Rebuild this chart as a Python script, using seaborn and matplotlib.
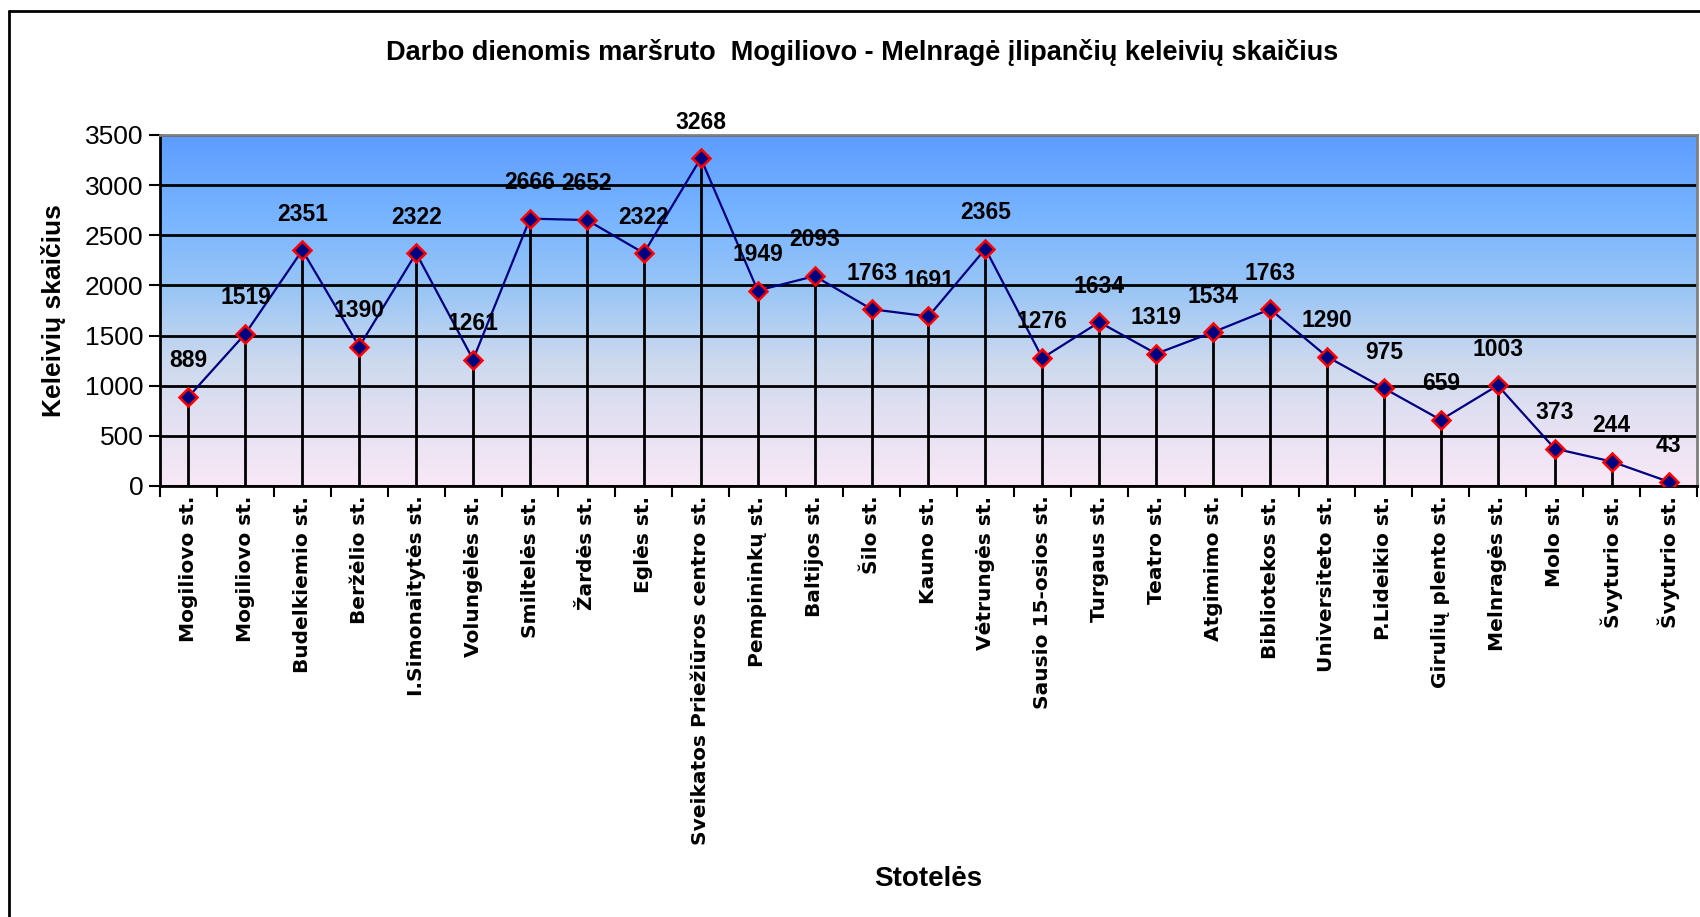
import numpy as np
import pandas as pd
import matplotlib
matplotlib.use("Agg")
import matplotlib.pyplot as plt
from matplotlib.colors import LinearSegmentedColormap
from matplotlib.lines import Line2D
import seaborn as sns

stops = ["Mogiliovo st.", "Mogiliovo st.", "Budelkiemio st.", "Beržėlio st.",
         "I.Simonaitytės st.", "Volungėlės st.", "Smiltelės st.", "Žardės st.",
         "Eglės st.", "Sveikatos Priežiūros centro st.", "Pempininkų st.",
         "Baltijos st.", "Šilo st.", "Kauno st.", "Vėtrungės st.",
         "Sausio 15-osios st.", "Turgaus st.", "Teatro st.", "Atgimimo st.",
         "Bibliotekos st.", "Universiteto st.", "P.Lideikio st.",
         "Girulių plento st.", "Melnragės st.", "Molo st.", "Švyturio st.",
         "Švyturio st."]
passengers = [889, 1519, 2351, 1390, 2322, 1261, 2666, 2652, 2322, 3268, 1949,
              2093, 1763, 1691, 2365, 1276, 1634, 1319, 1534, 1763, 1290, 975,
              659, 1003, 373, 244, 43]
yticks = [0, 500, 1000, 1500, 2000, 2500, 3000, 3500]

title = "Darbo dienomis maršruto  Mogiliovo - Melnragė įlipančių keleivių skaičius"
ylabel = "Keleivių skaičius"
xlabel = "Stotelės"

sns.set_theme(style="white")
plt.rcParams['font.family'] = ['Liberation Sans', 'DejaVu Sans']
plt.rcParams.update({'text.color': 'black', 'axes.labelcolor': 'black',
                     'xtick.color': 'black', 'ytick.color': 'black'})

n = len(passengers)
df = pd.DataFrame({"pos": np.arange(n), "val": passengers})

fig = plt.figure(figsize=(17, 9.17), dpi=100)
ax = fig.add_axes([160/1700, 1-486/917, (1697-160)/1700, (486-135)/917])

# gradient background
cmap = LinearSegmentedColormap.from_list("bg", [
    (0.0, (248/255, 232/255, 246/255)),
    (0.15, (232/255, 226/255, 243/255)),
    (0.35, (205/255, 217/255, 238/255)),
    (0.55, (155/255, 198/255, 245/255)),
    (0.75, (122/255, 182/255, 255/255)),
    (1.0, (92/255, 156/255, 255/255)),
])
grad = np.linspace(0, 1, 256).reshape(-1, 1)
ax.imshow(grad, aspect='auto', cmap=cmap, origin='lower',
          extent=[0, 1, 0, 1], transform=ax.transAxes, zorder=0)

for yv in yticks:
    ax.axhline(yv, color='black', lw=2, zorder=1)

ax.vlines(df["pos"], 0, df["val"], color='black', lw=2, zorder=2)

sns.lineplot(data=df, x="pos", y="val", ax=ax, color='#000080', lw=1.6,
             marker='D', markersize=9, markerfacecolor='#000080',
             markeredgecolor='red', markeredgewidth=1.8, zorder=3)

for x, v in zip(df["pos"], df["val"]):
    ax.annotate(str(v), (x, v), xytext=(0, 26), textcoords='offset points',
                ha='center', va='center', fontsize=16.5, fontweight='bold',
                color='black', annotation_clip=False, zorder=4)

ax.set_xlim(-0.5, n - 0.5)
ax.set_ylim(0, 3500)
ax.set_yticks(yticks)
ax.set_yticklabels([str(t) for t in yticks], fontsize=19)
ax.set_xticks(np.arange(n))
ax.set_xticklabels(stops, rotation=90, fontsize=14.5, fontweight='bold',
                   va='top', ha='center', family=['DejaVu Sans'])
ax.set_xticks(np.arange(n + 1) - 0.5, minor=True)
ax.tick_params(axis='x', which='major', length=0, pad=7)
ax.tick_params(axis='x', which='minor', length=8, width=1.5, color='black',
               direction='out', bottom=True)
ax.tick_params(axis='y', length=8, width=1.5, color='black', direction='out',
               left=True, pad=4)

ax.set_xlabel(xlabel, fontsize=20, fontweight='bold')
ax.set_ylabel(ylabel, fontsize=19, fontweight='bold')
ax.xaxis.set_label_coords((928-160)/(1697-160), -(866-486)/(486-135))
ax.yaxis.set_label_coords(-(160-66)/(1697-160), 0.5)

for side in ['left', 'bottom']:
    ax.spines[side].set_color('black')
    ax.spines[side].set_linewidth(2)
for side in ['top', 'right']:
    ax.spines[side].set_color('#808080')
    ax.spines[side].set_linewidth(2)

fig.text(862/1700, 1-52/917, title, ha='center', va='center', fontsize=19.5,
         fontweight='bold', color='black')

# outer frame
fig.add_artist(Line2D([9/1700, 9/1700], [0, 1-11/917], color='black', lw=2,
                      transform=fig.transFigure))
fig.add_artist(Line2D([9/1700, 1], [1-11/917, 1-11/917], color='black', lw=2,
                      transform=fig.transFigure))

fig.savefig("out.png", dpi=100)
